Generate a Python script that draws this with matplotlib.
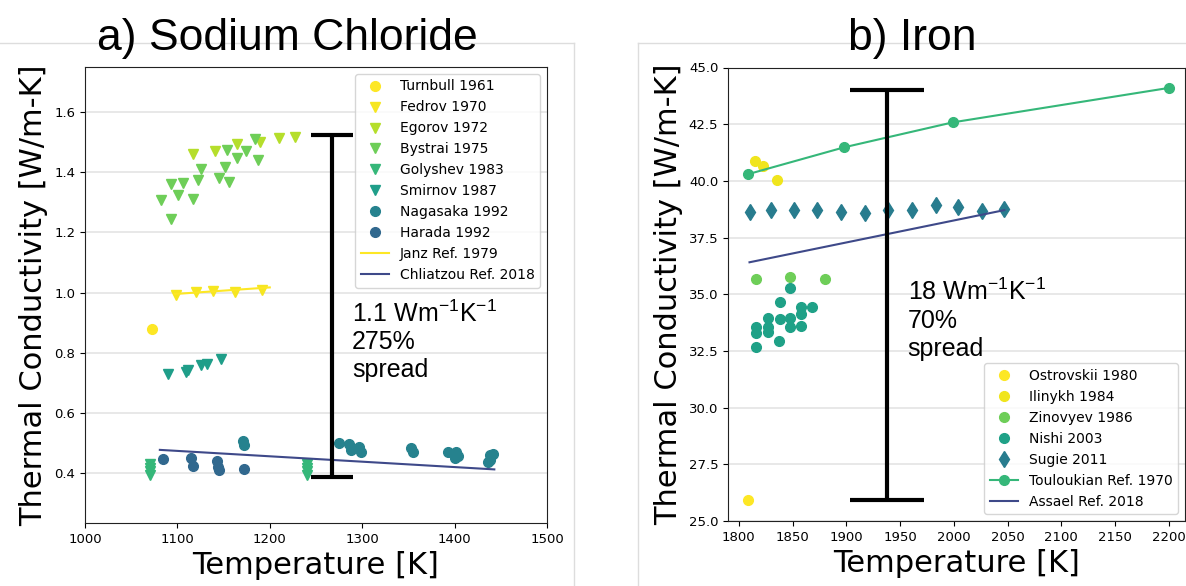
import matplotlib
matplotlib.use("Agg")
import matplotlib.pyplot as plt
from matplotlib.lines import Line2D

plt.rcParams['font.family'] = ['DejaVu Sans']
plt.rcParams['mathtext.fontset'] = 'custom'
plt.rcParams['mathtext.rm'] = 'Liberation Sans'
plt.rcParams['mathtext.it'] = 'Liberation Sans:italic'
plt.rcParams['mathtext.bf'] = 'Liberation Sans:bold'
plt.rcParams['mathtext.default'] = 'regular'

# ---- a) sodium chloride ----
turnbull_T = [1072]
turnbull_k = [0.878]
fedrov_T = [1098, 1120, 1138, 1162, 1192]
fedrov_k = [0.992, 1.003, 1.005, 1.003, 1.007]
egorov_T = [1117, 1141, 1165, 1189, 1210, 1227]
egorov_k = [1.461, 1.472, 1.494, 1.502, 1.516, 1.519]
bystrai_T = [1082, 1093, 1093, 1101, 1106, 1117, 1122, 1126, 1145, 1152, 1154, 1156, 1165, 1174, 1184, 1187]
bystrai_k = [1.308, 1.244, 1.361, 1.325, 1.364, 1.310, 1.375, 1.410, 1.380, 1.419, 1.475, 1.369, 1.447, 1.471, 1.510, 1.441]
golyshev_T = [1070, 1070, 1070, 1070, 1240, 1240, 1240, 1240]
golyshev_k = [0.428, 0.416, 0.405, 0.394, 0.428, 0.416, 0.405, 0.394]
smirnov_T = [1090, 1109, 1111, 1125, 1132, 1147]
smirnov_k = [0.728, 0.736, 0.742, 0.759, 0.762, 0.779]
nagasaka_T = [1171, 1172, 1275, 1286, 1288, 1297, 1299, 1353, 1355, 1393, 1402, 1400, 1404, 1438, 1442, 1436, 1438]
nagasaka_k = [0.507, 0.492, 0.498, 0.496, 0.476, 0.487, 0.468, 0.481, 0.470, 0.470, 0.470, 0.448, 0.456, 0.459, 0.462, 0.437, 0.442]
harada_T = [1084, 1115, 1117, 1143, 1144, 1145, 1172]
harada_k = [0.446, 0.448, 0.423, 0.440, 0.420, 0.409, 0.413]
janz_T = [1097, 1200]
janz_k = [0.995, 1.017]
chliatzou_T = [1081, 1443]
chliatzou_k = [0.476, 0.411]
nacl_spread_T = 1267
nacl_spread_lo = 0.387
nacl_spread_hi = 1.524

# ---- b) iron ----
ostrovskii_T = [1809]
ostrovskii_k = [25.93]
ilinykh_T = [1815, 1823, 1836]
ilinykh_k = [40.87, 40.66, 40.03]
zinovyev_T = [1816, 1848, 1880]
zinovyev_k = [35.67, 35.74, 35.67]
nishi_T = [1848, 1838, 1858, 1868, 1827, 1838, 1848, 1858, 1816, 1816, 1827, 1827, 1848, 1858, 1837, 1816]
nishi_k = [35.26, 34.67, 34.45, 34.45, 33.94, 33.89, 33.94, 34.13, 33.57, 33.28, 33.57, 33.32, 33.57, 33.61, 32.94, 32.66]
sugie_T = [1810, 1830, 1851, 1873, 1895, 1917, 1939, 1961, 1983, 2004, 2026, 2047]
sugie_k = [38.64, 38.71, 38.71, 38.71, 38.62, 38.57, 38.73, 38.73, 38.93, 38.86, 38.67, 38.75]
touloukian_T = [1809, 1898, 1999, 2200]
touloukian_k = [40.30, 41.48, 42.58, 44.10]
assael_T = [1810, 2047]
assael_k = [36.41, 38.71]
iron_spread_T = 1938
iron_spread_lo = 25.93
iron_spread_hi = 44.0

W, H = 1186, 586
fig = plt.figure(figsize=(11.86, 5.86), dpi=100)

def px_axes(x0, x1, ytop, ybot):
    return fig.add_axes([x0 / W, 1 - ybot / H, (x1 - x0) / W, (ybot - ytop) / H])

ax1 = px_axes(85, 547, 67, 523)
ax2 = px_axes(728, 1185, 67.5, 521)

ms = 7
ax1.plot(turnbull_T, turnbull_k, 'o', color='#fde725', ms=ms, label='Turnbull 1961')
ax1.plot(fedrov_T, fedrov_k, 'v', color='#f6e620', ms=ms, label='Fedrov 1970')
ax1.plot(egorov_T, egorov_k, 'v', color='#b5de2b', ms=ms, label='Egorov 1972')
ax1.plot(bystrai_T, bystrai_k, 'v', color='#6ece58', ms=ms, label='Bystrai 1975')
ax1.plot(golyshev_T, golyshev_k, 'v', color='#35b779', ms=ms, label='Golyshev 1983')
ax1.plot(smirnov_T, smirnov_k, 'v', color='#1f9e89', ms=ms, label='Smirnov 1987')
ax1.plot(nagasaka_T, nagasaka_k, 'o', color='#26828e', ms=ms, label='Nagasaka 1992')
ax1.plot(harada_T, harada_k, 'o', color='#31688e', ms=ms, label='Harada 1992')
ax1.plot(janz_T, janz_k, '-', color='#fde725', lw=1.5, label='Janz Ref. 1979')
ax1.plot(chliatzou_T, chliatzou_k, '-', color='#3e4989', lw=1.5, label='Chliatzou Ref. 2018')
mid = (nacl_spread_hi + nacl_spread_lo) / 2
ax1.errorbar([nacl_spread_T], [mid], yerr=[(nacl_spread_hi - nacl_spread_lo) / 2],
             color='k', lw=3, capsize=15, capthick=3, zorder=5)
ax1.text(1289, 0.838, '1.1 Wm$^{-1}$K$^{-1}$\n275%\nspread', fontsize=18,
         family='Liberation Sans', va='center', ha='left')
ax1.set_xlim(1000, 1500)
ax1.set_ylim(0.2325, 1.751)
ax1.set_xticks([1000, 1100, 1200, 1300, 1400, 1500])
ax1.set_yticks([0.4, 0.6, 0.8, 1.0, 1.2, 1.4, 1.6])
ax1.legend(loc='upper right', fontsize=10)

ax2.plot(ostrovskii_T, ostrovskii_k, 'o', color='#fde725', ms=ms, label='Ostrovskii 1980')
ax2.plot(ilinykh_T, ilinykh_k, 'o', color='#f0e51d', ms=ms, label='Ilinykh 1984')
ax2.plot(zinovyev_T, zinovyev_k, 'o', color='#6ece58', ms=ms, label='Zinovyev 1986')
ax2.plot(nishi_T, nishi_k, 'o', color='#1fa187', ms=ms, label='Nishi 2003')
ax2.plot(sugie_T, sugie_k, 'd', color='#287c8e', ms=8, label='Sugie 2011')
ax2.plot(touloukian_T, touloukian_k, '-o', color='#35b779', lw=1.5, ms=ms, label='Touloukian Ref. 1970')
ax2.plot(assael_T, assael_k, '-', color='#3e4989', lw=1.5, label='Assael Ref. 2018')
mid = (iron_spread_hi + iron_spread_lo) / 2
ax2.errorbar([iron_spread_T], [mid], yerr=[(iron_spread_hi - iron_spread_lo) / 2],
             color='k', lw=3, capsize=26.4, capthick=3, zorder=5)
ax2.text(1957, 33.86, '18 Wm$^{-1}$K$^{-1}$\n70%\nspread', fontsize=18,
         family='Liberation Sans', va='center', ha='left')
ax2.set_xlim(1790, 2215)
ax2.set_ylim(25, 45)
ax2.set_xticks([1800, 1850, 1900, 1950, 2000, 2050, 2100, 2150, 2200])
ax2.set_yticks([25, 27.5, 30, 32.5, 35, 37.5, 40, 42.5, 45])
ax2.set_yticklabels(['25.0', '27.5', '30.0', '32.5', '35.0', '37.5', '40.0', '42.5', '45.0'])
ax2.legend(loc='lower right', fontsize=10)

for ax in (ax1, ax2):
    ax.yaxis.grid(True, color='#e4e4e4', lw=1.2)
    ax.set_axisbelow(True)
    ax.tick_params(labelsize=9.5)
    ax.set_xlabel('Temperature [K]', fontsize=22)
    ax.set_ylabel('Thermal Conductivity [W/m-K]', fontsize=22)
    for s in ax.spines.values():
        s.set_color('#222222')

# panel titles
fig.text(287 / W, 1 - 50 / H, 'a) Sodium Chloride', fontsize=32,
         family='Liberation Sans', ha='center', va='baseline')
fig.text(912 / W, 1 - 50 / H, 'b) Iron', fontsize=32,
         family='Liberation Sans', ha='center', va='baseline')

# light frame lines of the two panels
c = '#dddddd'
fig.add_artist(Line2D([0, 574 / W], [1 - 43 / H, 1 - 43 / H], color=c, lw=1))
fig.add_artist(Line2D([574 / W, 574 / W], [0, 1 - 43 / H], color=c, lw=1))
fig.add_artist(Line2D([638 / W, 1], [1 - 43 / H, 1 - 43 / H], color=c, lw=1))
fig.add_artist(Line2D([638 / W, 638 / W], [0, 1 - 43 / H], color=c, lw=1))

fig.savefig('out.png', dpi=100)
